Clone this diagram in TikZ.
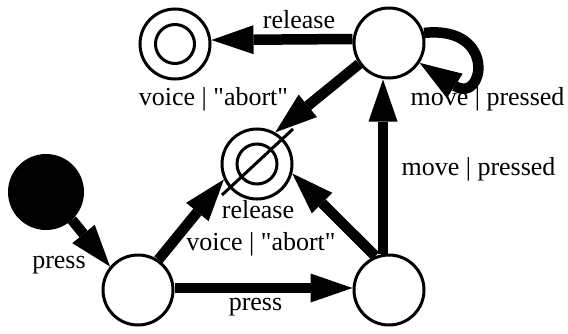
\documentclass[tikz,border=0pt]{standalone}
\usepackage{fontspec}
\setmainfont{Liberation Serif}[Ligatures=TeXOff]
\usetikzlibrary{arrows.meta}

\begin{document}
\begin{tikzpicture}[x=1pt,y=1pt,
    state/.style={circle,draw,line width=3pt,minimum size=70pt,inner sep=0pt},
    start/.style={circle,draw,fill,line width=3pt,minimum size=73pt,inner sep=0pt},
    trans/.style={line width=10.5pt,-{Triangle[length=42pt,width=29pt,line width=0pt]}},
    lbl/.style={anchor=base,inner sep=0pt,font=\fontsize{26}{30}\selectfont}]
    \useasboundingbox (0,0) rectangle (568,333);

    % states
    \node[start] (init) at (46,141) {};
    \node[state] (first) at (138,43) {};
    \node[state] (second) at (389,43) {};
    \node[state] (moving) at (389,290) {};
    \node[state] (accept) at (175,289) {};
    \node[state] (reject) at (257,169) {};

    % final states: inner ring, the aborted one crossed out
    \draw[line width=3pt] (accept) circle (19.5);
    \draw[line width=3pt] (reject) circle (20);
    \draw[line width=3pt] ([shift={(-35,-31)}]reject.center) -- ([shift={(36,35)}]reject.center);

    % transitions
    \draw[trans] (init.-47) -- (first.140);
    \draw[trans] ([yshift=2pt]first.east) -- ([yshift=2pt]second.west);
    \draw[trans] (first.56) -- (reject.205);
    \draw[trans] (second.112) -- (reject.-15);
    \draw[trans] ([xshift=-6pt]second.north) -- ([xshift=-6pt]moving.south);
    \draw[trans] ([yshift=4pt]moving.west) -- ([yshift=4pt]accept.east);
    \draw[trans] (moving.215) -- (reject.60);
    \draw[trans] (moving.16) .. controls (498,308) and (484,228) .. (moving.-33);

    % labels
    \node[lbl] (l1) at (59,65) {press};
    \node[lbl] (l2) at (255.5,23) {press};
    \node[lbl] (l3) at (258,115) {release};
    \node[lbl] (l4) at (261,83) {voice | "abort"};
    \node[lbl] (l5) at (478.5,158) {move | pressed};
    \node[lbl] (l6) at (487.5,228) {move | pressed};
    \node[lbl] (l7) at (299,305) {release};
    \node[lbl] (l8) at (213.5,228) {voice | "abort"};
\end{tikzpicture}
\end{document}
